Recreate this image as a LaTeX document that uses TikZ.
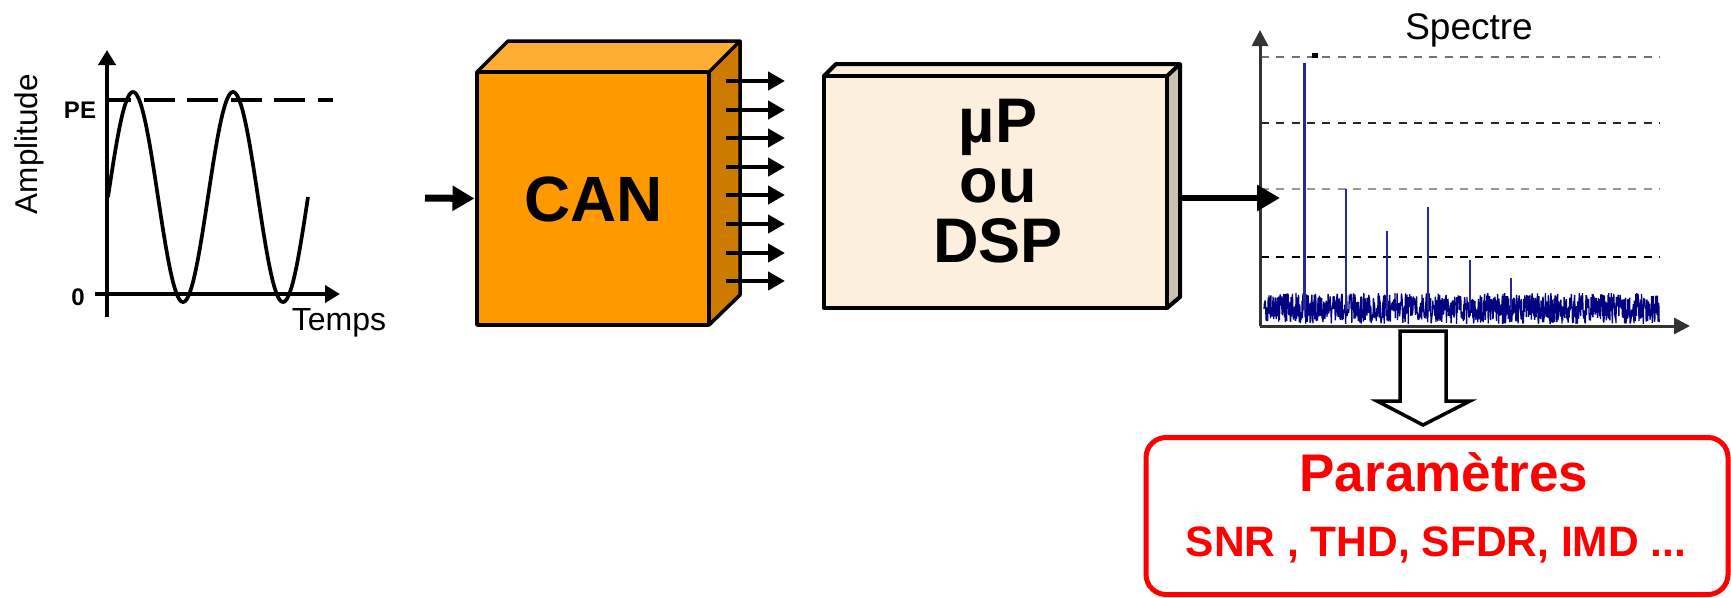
\documentclass[tikz,border=0pt]{standalone}
\usepackage{fontspec}
\setmainfont{Liberation Sans}
\usetikzlibrary{arrows.meta}
\definecolor{canfront}{HTML}{FF9900}
\definecolor{cantop}{HTML}{FFAD33}
\definecolor{canside}{HTML}{CC7A00}
\definecolor{dspfront}{HTML}{FDEFDD}
\definecolor{dspside}{HTML}{CCC1B1}
\definecolor{noiseblue}{HTML}{000080}
\definecolor{spikeblue}{HTML}{28289A}
\tikzset{
  face/.style={draw=black,line width=3.5pt,line join=round},
  facenode/.style={face,inner sep=0pt,outer sep=0pt},
  axisline/.style={line width=4pt,-{Triangle[length=15pt,width=17pt]}},
  specaxis/.style={draw=black!80,line width=3pt,-{Triangle[length=16pt,width=16pt]}},
  busarrow/.style={line width=4.5pt,-{Triangle[length=17pt,width=18pt]}},
  griddash/.style={line width=2pt,dash pattern=on 8pt off 7.3pt},
  spike/.style={draw=spikeblue,line width=2.2pt},
  lab/.style={inner sep=0pt,outer sep=0pt,text=black},
}
\newcommand{\fsz}[1]{\fontsize{#1}{#1}\selectfont}
\begin{document}
\begin{tikzpicture}[x=1pt,y=-1pt]
\useasboundingbox (0,0) rectangle (1731,597);
% --- time signal
\coordinate (tyb) at (107,317); \coordinate (tyt) at (107,50);
\coordinate (txl) at (95,294);  \coordinate (txr) at (340,294);
\coordinate (pel) at (107,100); \coordinate (per) at (333,100);
\draw[axisline] (tyb) -- (tyt);
\draw[axisline] (txl) -- (txr);
\draw[line width=3.5pt,dash pattern=on 31pt off 12.5pt,dash phase=7pt] (pel) -- (per);
\draw[line width=3.7pt,line join=round] plot[samples=240,domain=108:308,smooth] (\x,{197-105*sin(3.6*(\x-108))});
\node[lab,font=\fsz{24}\bfseries] (pe) at (80,110) {PE};
\node[lab,font=\fsz{24}\bfseries] (zero) at (78,297) {0};
\node[lab,font=\fsz{31.5},rotate=90] (amp) at (29,144) {Amplitude};
\node[lab,font=\fsz{32}] (temps) at (339,323) {Temps};
% --- CAN
\fill[cantop] (477,72) -- (508,41) -- (740,41) -- (709,72) -- cycle;
\fill[canside] (709,72) -- (740,41) -- (740,295) -- (709,325) -- cycle;
\draw[face] (477,72) -- (508,41) -- (740,41) -- (709,72);
\draw[face] (740,41) -- (740,295) -- (709,325);
\node[facenode,fill=canfront,minimum width=232pt,minimum height=253pt] (can) at (593,198.5) {};
\node[lab,font=\fsz{64}\bfseries] (cantext) at (593.5,199) {CAN};
\coordinate (canin) at (425,198);
\draw[line width=7pt,-{Triangle[length=22pt,width=24pt]},shorten >=2.5pt] (canin) -- (can.west);
\foreach \i/\yy in {1/81,2/110,3/138,4/167,5/195,6/224,7/253,8/281}{
  \coordinate (bs\i) at (726,\yy);
  \coordinate (be\i) at (785,\yy);
  \draw[busarrow] (bs\i) -- (be\i);
}
% --- DSP
\fill[dspfront] (824,76) -- (836,64) -- (1180,64) -- (1167,76) -- cycle;
\fill[dspside] (1167,76) -- (1180,64) -- (1180,297) -- (1167,308) -- cycle;
\draw[face,line width=4pt] (824,76) -- (836,64) -- (1180,64) -- (1167,76);
\draw[face,line width=4pt] (1180,64) -- (1180,297) -- (1167,308);
\node[facenode,line width=4pt,fill=dspfront,minimum width=343pt,minimum height=232pt] (dsp) at (995.5,192) {};
\node[lab,font=\fsz{63}\bfseries,align=center,anchor=center] (dsptext) at (998,181) {µP\\[-3pt]ou\\[-3pt]DSP};
% --- spectrum
\foreach \yy/\cc in {57/black!55,123/black!85,189/black!40,257/black}{
  \coordinate (gl) at (1261,\yy); \coordinate (gr) at (1660,\yy);
  \draw[griddash,draw=\cc] (gl) -- (gr);
}
\fill (1312,53) rectangle (1318,57.5);
\pgfmathsetseed{11}
\draw[noiseblue,line width=1.3pt,line join=bevel] plot[samples=1100,domain=1264:1659.5] (\x,{308.5+15.5*rand});
\foreach \xx/\tt in {1304.5/63,1345.6/189,1387/231,1428/207,1470/260,1511/278}{
  \coordinate (st) at (\xx,\tt); \coordinate (sb) at (\xx,310);
  \draw[spike] (sb) -- (st);
}
\coordinate (sorg) at (1260,326); \coordinate (syt) at (1260,30); \coordinate (sxr) at (1690,326);
\draw[specaxis] (sorg) -- (syt);
\draw[specaxis] (sorg) -- (sxr);
\node[lab,font=\fsz{37}] (spectre) at (1469,30) {Spectre};
\coordinate (dspout) at (1180,198); \coordinate (specin) at (1280,198);
\draw[line width=6.5pt,-{Triangle[length=23pt,width=25pt]}] (dspout) -- (specin);
% --- hollow arrow
\draw[draw=black,fill=white,line width=3.5pt,line join=miter] (1400,331) -- (1446,331) -- (1446,401) -- (1470,401) -- (1423,425) -- (1377,401) -- (1400,401) -- cycle;
% --- parameters
\node[draw=red,line width=5pt,rounded corners=20pt,inner sep=0pt,minimum width=582pt,minimum height=157pt] (param) at (1437,516) {};
\node[lab,text=red,font=\fsz{53}\bfseries] (ptitle) at (1444,472) {Paramètres};
\node[lab,text=red,font=\fsz{42.5}\bfseries] (plist) at (1436,545) {SNR , THD, SFDR, IMD ...};
\end{tikzpicture}
\end{document}
